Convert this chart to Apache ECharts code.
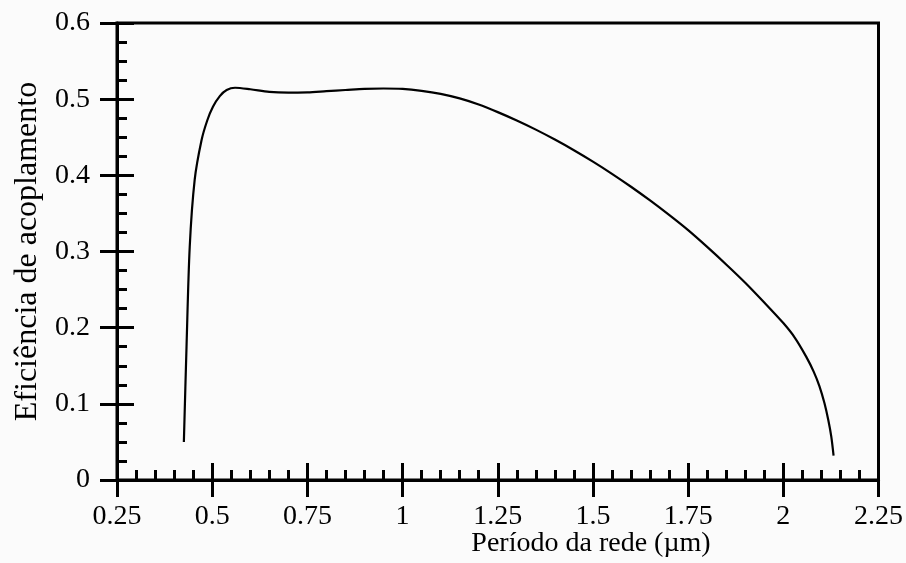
<!DOCTYPE html>
<html>
<head>
<meta charset="utf-8">
<script src="https://cdn.jsdelivr.net/npm/echarts@6/dist/echarts.min.js"></script>
<style>
	html, body { margin: 0; padding: 0; background: #fbfbfb; }
	#chart { width: 906px; height: 563px; }
</style>
</head>
<body>
<div id="chart"></div>
<script>
	// período da rede (um) vs eficiência de acoplamento
	const periodo = [0.4256, 0.4326, 0.441, 0.454, 0.472, 0.487, 0.502, 0.52, 0.538, 0.56, 0.6, 0.65, 0.7, 0.75, 0.8, 0.85, 0.9, 0.95, 1.0, 1.05, 1.1, 1.15, 1.2, 1.25, 1.3, 1.35, 1.4, 1.45, 1.5, 1.55, 1.6, 1.65, 1.7, 1.75, 1.8, 1.85, 1.9, 1.95, 2.0, 2.03, 2.06, 2.08, 2.095, 2.108, 2.118, 2.126, 2.132]
	const eficiencia = [0.05, 0.175, 0.306, 0.394, 0.446, 0.472, 0.49, 0.504, 0.512, 0.515, 0.513, 0.5095, 0.5085, 0.509, 0.5105, 0.512, 0.5135, 0.514, 0.5135, 0.511, 0.507, 0.501, 0.493, 0.483, 0.472, 0.46, 0.447, 0.433, 0.418, 0.402, 0.385, 0.367, 0.348, 0.328, 0.306, 0.283, 0.259, 0.233, 0.206, 0.187, 0.162, 0.142, 0.123, 0.101, 0.079, 0.057, 0.032]
	const xTicks = [0.25, 0.5, 0.75, 1, 1.25, 1.5, 1.75, 2, 2.25]
	const yTicks = [0, 0.1, 0.2, 0.3, 0.4, 0.5, 0.6]

	const font = 'Liberation Serif'
	const chart = echarts.init(document.getElementById('chart'))

	let lineStyle = { color: '#000', width: 3 }
	let tickStyle = { color: '#000', width: 3 }
	let labelStyle = { color: '#000', fontFamily: font, fontSize: 28 }

	let option = {
		backgroundColor: '#fbfbfb',
		animation: false,
		grid: {
			left: 117,
			right: 26,
			top: 23,
			bottom: 83,
			show: true,
			borderColor: '#000',
			borderWidth: 3,
			backgroundColor: 'transparent'
		},
		xAxis: [{
			type: 'value',
			position: 'bottom',
			min: xTicks[0],
			max: xTicks[xTicks.length - 1],
			interval: 0.25,
			axisLine: { show: true, onZero: false, lineStyle: lineStyle },
			axisTick: { show: true, inside: true, length: 17, lineStyle: tickStyle },
			minorTick: { show: true, splitNumber: 5, length: 10, lineStyle: tickStyle },
			splitLine: { show: false },
			axisLabel: {
				show: true,
				margin: 23,
				...labelStyle,
				formatter: v => String(+v.toFixed(2))
			}
		}, {
			type: 'value',
			position: 'bottom',
			min: xTicks[0],
			max: xTicks[xTicks.length - 1],
			interval: 0.25,
			axisLine: { show: false, onZero: false },
			axisTick: { show: true, inside: false, length: 17, lineStyle: tickStyle },
			splitLine: { show: false },
			axisLabel: { show: false }
		}],
		yAxis: [{
			type: 'value',
			position: 'left',
			min: yTicks[0],
			max: yTicks[yTicks.length - 1],
			interval: 0.1,
			name: 'Eficiência de acoplamento',
			nameLocation: 'middle',
			nameGap: 73,
			nameTextStyle: { color: '#000', fontFamily: font, fontSize: 32 },
			axisLine: { show: true, onZero: false, lineStyle: lineStyle },
			axisTick: { show: true, inside: true, length: 17, lineStyle: tickStyle },
			minorTick: { show: true, splitNumber: 4, length: 10, lineStyle: tickStyle },
			splitLine: { show: false },
			axisLabel: {
				show: true,
				margin: 27,
				...labelStyle,
				formatter: v => String(+v.toFixed(1))
			}
		}, {
			type: 'value',
			position: 'left',
			min: yTicks[0],
			max: yTicks[yTicks.length - 1],
			interval: 0.1,
			axisLine: { show: false, onZero: false },
			axisTick: { show: true, inside: false, length: 17, lineStyle: tickStyle },
			splitLine: { show: false },
			axisLabel: { show: false }
		}],
		graphic: [{
			type: 'text',
			x: 591,
			y: 530,
			style: {
				text: 'Período da rede (µm)',
				fill: '#000',
				textAlign: 'center',
				textVerticalAlign: 'top',
				font: '28px "' + font + '"'
			}
		}],
		series: [{
			type: 'line',
			data: periodo.map((p, i) => [p, eficiencia[i]]),
			smooth: 0.3,
			showSymbol: false,
			lineStyle: { color: '#000', width: 2.2 }
		}]
	}
	chart.setOption(option)
</script>
</body>
</html>
